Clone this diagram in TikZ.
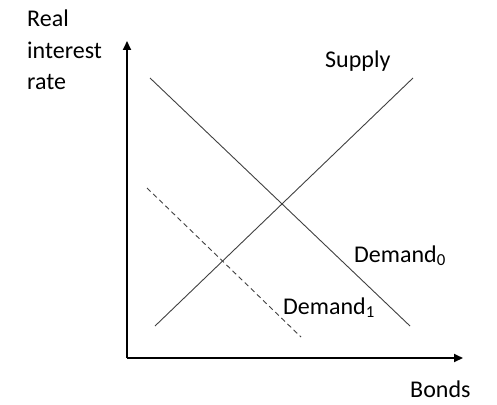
\documentclass[tikz,border=0pt]{standalone}
\usepackage{fontspec}
\setmainfont{Carlito}
\usetikzlibrary{arrows.meta}
\begin{document}
\begin{tikzpicture}[x=1pt,y=-1pt,
    axis/.style={line width=2pt,-{Triangle[length=9pt,width=8pt]}},
    curve/.style={line width=0.9pt,black!75},
    lbl/.style={anchor=base west,inner sep=0pt,font=\fontsize{24}{31}\selectfont}]
    \useasboundingbox (0,0) rectangle (497,404);
    %% axes
    \coordinate (O) at (127,358);
    \coordinate (ytip) at (127,41);
    \coordinate (xtip) at (463,358);
    \draw[axis] (O) -- (ytip);
    \draw[axis] (O) -- (xtip);
    %% supply and demand
    \coordinate (s0) at (155,326);
    \coordinate (s1) at (413,78);
    \coordinate (d0a) at (150,78);
    \coordinate (d0b) at (410,326);
    \coordinate (d1a) at (147,188);
    \coordinate (d1b) at (301,337);
    \draw[curve] (s0) -- (s1);
    \draw[curve] (d0a) -- (d0b);
    \draw[curve,dash pattern=on 5pt off 3.5pt] (d1a) -- (d1b);
    %% labels
    \node[lbl] (rate) at (27,27) {Real};
    \node[lbl] (rate2) at (27,58) {interest};
    \node[lbl] (rate3) at (27,89) {rate};
    \node[lbl] (supply) at (325,67) {Supply};
    \node[lbl] (dem0) at (354,262) {Demand\textsubscript{0}};
    \node[lbl] (dem1) at (283,314) {Demand\textsubscript{1}};
    \node[lbl] (bonds) at (410,397) {Bonds};
\end{tikzpicture}
\end{document}
